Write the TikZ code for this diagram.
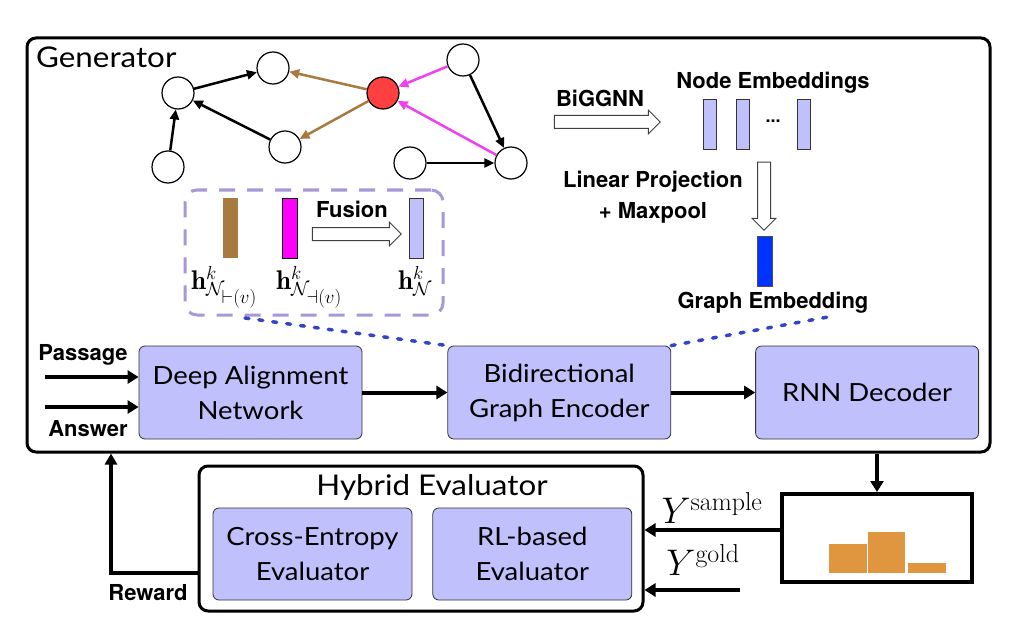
\documentclass[tikz,border=0pt]{standalone}
\usepackage{fix-cm}
\usepackage{fontspec}
\newfontfamily\boxfont[FakeStretch=1.1]{Lato}
\newfontfamily\lblfont{TeX Gyre Heros}
\usetikzlibrary{arrows.meta,positioning,calc,shapes.arrows}

\definecolor{boxfill}{RGB}{192,192,252}
\definecolor{edgebrown}{RGB}{169,122,64}
\definecolor{edgepink}{RGB}{240,64,240}
\definecolor{barpink}{RGB}{255,0,255}
\definecolor{nodered}{RGB}{255,64,64}
\definecolor{barblue}{RGB}{0,51,255}
\definecolor{fuseline}{RGB}{168,152,216}
\definecolor{dotblue}{RGB}{51,68,204}
\definecolor{historange}{RGB}{224,150,63}

\begin{document}
\begin{tikzpicture}[
  x=1pt, y=-1pt,
  node distance=20pt,
  procbox/.style={draw=black!80, line width=0.8pt, fill=boxfill, rounded corners=6pt, minimum width=223pt, minimum height=93pt, align=center, font=\boxfont\fontsize{25}{35}\selectfont},
  frame/.style={draw, line width=3pt, rounded corners=9pt, inner sep=0pt},
  title/.style={font=\boxfont\fontsize{28.5}{32}\selectfont, inner sep=0pt},
  lbl/.style={font=\lblfont\bfseries\fontsize{22}{31}\selectfont, inner sep=0pt, align=center},
  gnode/.style={draw, circle, line width=1.2pt, minimum size=32pt, inner sep=0pt, fill=white},
  gedge/.style={line width=2.5pt, -{Triangle[length=10pt,width=9pt]}},
  flow/.style={line width=4pt, -{Triangle[length=11pt,width=13pt]}},
  bar/.style={minimum width=15pt, minimum height=60pt, inner sep=0pt},
  embbar/.style={draw=black!80, line width=0.8pt, fill=boxfill, minimum width=13pt, minimum height=50pt, inner sep=0pt},
  hollow/.style={single arrow, draw=black!75, line width=1pt, fill=white, inner sep=6pt, single arrow head extend=5.5pt, single arrow tip angle=90},
  dotline/.style={dotblue, line width=3.5pt, line cap=round, dash pattern=on 4pt off 10pt},
  hlbl/.style={anchor=base west, inner sep=0pt, font=\fontsize{27}{30}\selectfont},
]

\path[fill=white] (0,0) rectangle (1027,631);

% Generator frame
\node[frame, minimum width=963pt, minimum height=414pt] (gen) at (508.5,245) {};
\node[title, anchor=west] (genlbl) at (36,57) {Generator};

% Graph
\node[gnode] (ga) at (178,93) {};
\node[gnode] (gb) at (273,68) {};
\node[gnode] (gc) at (168,167) {};
\node[gnode] (gd) at (285,147) {};
\node[gnode, fill=nodered] (gr) at (383,93) {};
\node[gnode] (ge) at (463,60) {};
\node[gnode] (gf) at (410,163) {};
\node[gnode] (gg) at (511,163) {};

\draw[gedge] (gc) -- (ga);
\draw[gedge] (gd) -- (ga);
\draw[gedge] (ga) -- (gb);
\draw[gedge] (ge) -- (gg);
\draw[gedge] (gf) -- (gg);
\draw[gedge, edgebrown] (gr) -- (gb);
\draw[gedge, edgebrown] (gr) -- (gd);
\draw[gedge, edgepink] (ge) -- (gr);
\draw[gedge, edgepink] (gg) -- (gr);

% Fusion box
\node[draw=fuseline, line width=3pt, dash pattern=on 16pt off 12pt, rounded corners=12pt, minimum width=258pt, minimum height=125pt] (fusebox) at (314,252.5) {};
\node[bar, fill=edgebrown] (hfwd) at (230.5,228) {};
\node[bar, fill=barpink, draw, line width=0.8pt] (hbwd) at (289.5,228) {};
\node[bar, fill=boxfill, draw=black!80, line width=0.8pt, minimum width=14pt] (hfuse) at (416,228) {};
\node[hollow, minimum height=89pt] (fusearrow) at (353.5,234) {};
\node[lbl] (fuselbl) at (352,209) {Fusion};
\node[hlbl] (hfwdlbl) at (191,289) {$\mathbf{h}^{k}_{\mathcal{N}_{\scriptstyle\vdash(v)}}$};
\node[hlbl] (hbwdlbl) at (276,289) {$\mathbf{h}^{k}_{\mathcal{N}_{\scriptstyle\dashv(v)}}$};
\node[hlbl] (hfuselbl) at (398,289) {$\mathbf{h}^{k}_{\mathcal{N}}$};

% Embeddings
\node[hollow, minimum height=106pt] (gnnarrow) at (604,122) {};
\node[lbl] (gnnlbl) at (600,98) {BiGGNN};
\node[lbl] (nodelbl) at (773,83) {Node Embeddings};
\node[embbar] (emb1) at (709.5,124) {};
\node[embbar, right=20pt of emb1] (emb2) {};
\node[embbar] (emb3) at (804,124) {};
\node[lbl, font=\lblfont\bfseries\fontsize{18}{18}\selectfont] (embdots) at (773,121) {...};
\node[hollow, minimum height=68pt, shape border rotate=270] (poolarrow) at (764,193) {};
\node[lbl] (poollbl) at (653,197) {Linear Projection\\+ Maxpool};
\node[bar, fill=barblue, draw=black!70, line width=0.6pt, minimum height=50pt] (gemb) at (764.5,261) {};
\node[lbl] (gemblbl) at (773,303) {Graph Embedding};

% Main pipeline
\node[procbox] (dan) at (250.5,392.5) {Deep Alignment\\Network};
\node[procbox, right=85pt of dan] (bge) {Bidirectional\\Graph Encoder};
\node[procbox, right=84pt of bge] (rnn) {RNN Decoder};

\node[lbl] (passlbl) at (83,355) {Passage};
\node[lbl] (anslbl) at (88,429) {Answer};
\coordinate (passin) at (45,377);
\coordinate (ansin) at (45,407);
\draw[flow] (passin) -- (passin -| dan.west);
\draw[flow] (ansin) -- (ansin -| dan.west);
\draw[flow] (dan) -- (bge);
\draw[flow] (bge) -- (rnn);

\coordinate (fuseend) at (245,318);
\coordinate (gembend) at (828,317);
\draw[dotline] (fuseend) -- (bge.north west);
\draw[dotline] (bge.north east) -- (gembend);

% Hybrid evaluator
\node[frame, minimum width=444pt, minimum height=145pt] (hyb) at (421,538.5) {};
\node[title] (hyblbl) at (432,487) {Hybrid Evaluator};
\node[procbox, minimum width=199pt, minimum height=92pt] (ce) at (312.5,554) {Cross-Entropy\\Evaluator};
\node[procbox, minimum width=199pt, minimum height=92pt, right=20pt of ce] (rl) {RL-based\\Evaluator};

% Reward loop
\coordinate (rwd) at (111,573);
\draw[line width=3.5pt, -{Triangle[length=11pt,width=12pt]}] (rwd -| hyb.west) -- (rwd) -- (rwd |- gen.south);
\node[lbl] (rwdlbl) at (148,593) {Reward};

% Sample box
\node[draw, line width=4pt, minimum width=190pt, minimum height=88pt, inner sep=0pt] (sampbox) at (877,538) {};
\fill[historange] (829,544) rectangle (866.5,573);
\fill[historange] (867.5,532) rectangle (905,573);
\fill[historange] (908,563) rectangle (946,573);
\draw[flow] (sampbox.north |- gen.south) -- (sampbox.north);

\coordinate (ys) at (0,530);
\coordinate (yg) at (740,590);
\draw[flow] (ys -| sampbox.west) -- (ys -| hyb.east);
\draw[flow] (yg) -- (yg -| hyb.east);
\node[font=\fontsize{37}{40}\selectfont, inner sep=0pt] (yslbl) at (712,508) {$Y^{\mathrm{sample}}$};
\node[font=\fontsize{37}{40}\selectfont, inner sep=0pt] (yglbl) at (703,560) {$Y^{\mathrm{gold}}$};

\end{tikzpicture}
\end{document}
